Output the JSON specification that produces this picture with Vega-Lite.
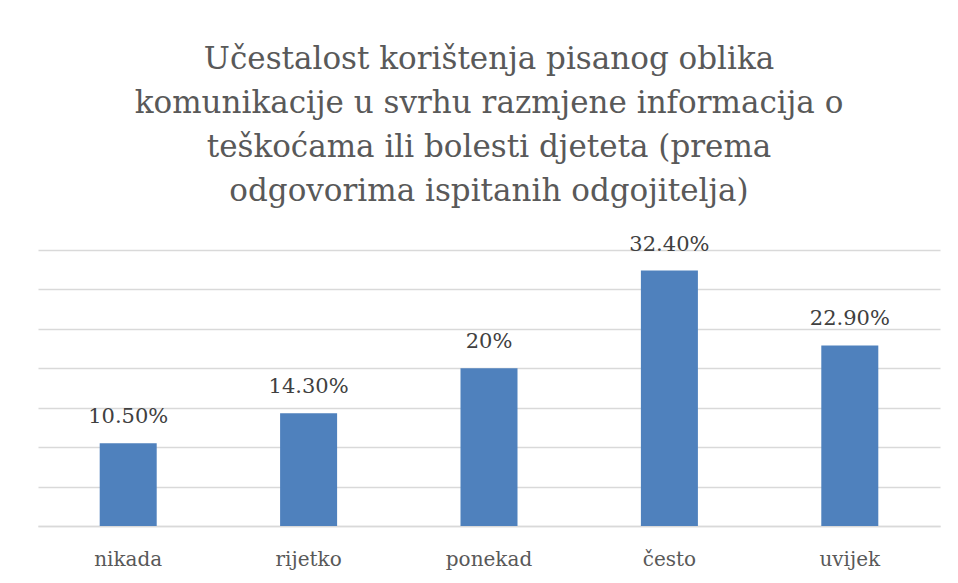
{
  "$schema": "https://vega.github.io/schema/vega-lite/v6.json",
  "autosize": {"type": "none"},
  "padding": {"left": 38, "top": 250, "right": 18, "bottom": 57},
  "width": 902,
  "height": 276,
  "background": "white",
  "config": {"view": {"stroke": null}, "font": "DejaVu Serif"},
  "title": {
    "text": ["Učestalost korištenja pisanog oblika", "komunikacije u svrhu razmjene informacija o", "teškoćama ili bolesti djeteta (prema", "odgovorima ispitanih odgojitelja)"],
    "font": "DejaVu Serif",
    "fontSize": 31,
    "fontWeight": "normal",
    "color": "#595959",
    "lineHeight": 44,
    "anchor": "middle",
    "frame": "group",
    "offset": 26
  },
  "data": {
    "values": [
      {"kategorija": "nikada", "postotak": 10.5, "oznaka": "10.50%"},
      {"kategorija": "rijetko", "postotak": 14.3, "oznaka": "14.30%"},
      {"kategorija": "ponekad", "postotak": 20, "oznaka": "20%"},
      {"kategorija": "često", "postotak": 32.4, "oznaka": "32.40%"},
      {"kategorija": "uvijek", "postotak": 22.9, "oznaka": "22.90%"}
    ]
  },
  "encoding": {
    "x": {
      "field": "kategorija", "type": "nominal", "sort": null,
      "scale": {"paddingInner": 0.684, "paddingOuter": 0.342},
      "axis": {"title": null, "labelAngle": 0, "labelFontSize": 20, "labelColor": "#595959", "labelFont": "DejaVu Serif", "ticks": false, "domainColor": "#d9d9d9", "domainWidth": 1.5, "labelBaseline": "alphabetic", "labelPadding": 39}
    },
    "y": {
      "field": "postotak", "type": "quantitative",
      "scale": {"domain": [0, 35], "nice": false},
      "axis": {"title": null, "values": [0, 5, 10, 15, 20, 25, 30, 35], "labels": false, "ticks": false, "domain": false, "gridColor": "#d9d9d9", "gridWidth": 1.5}
    }
  },
  "layer": [
    {"mark": {"type": "bar", "color": "#4f81bd"}},
    {"mark": {"type": "text", "baseline": "alphabetic", "dy": -20, "fontSize": 21, "color": "#404040", "font": "DejaVu Serif"}, "encoding": {"text": {"field": "oznaka"}}}
  ]
}
